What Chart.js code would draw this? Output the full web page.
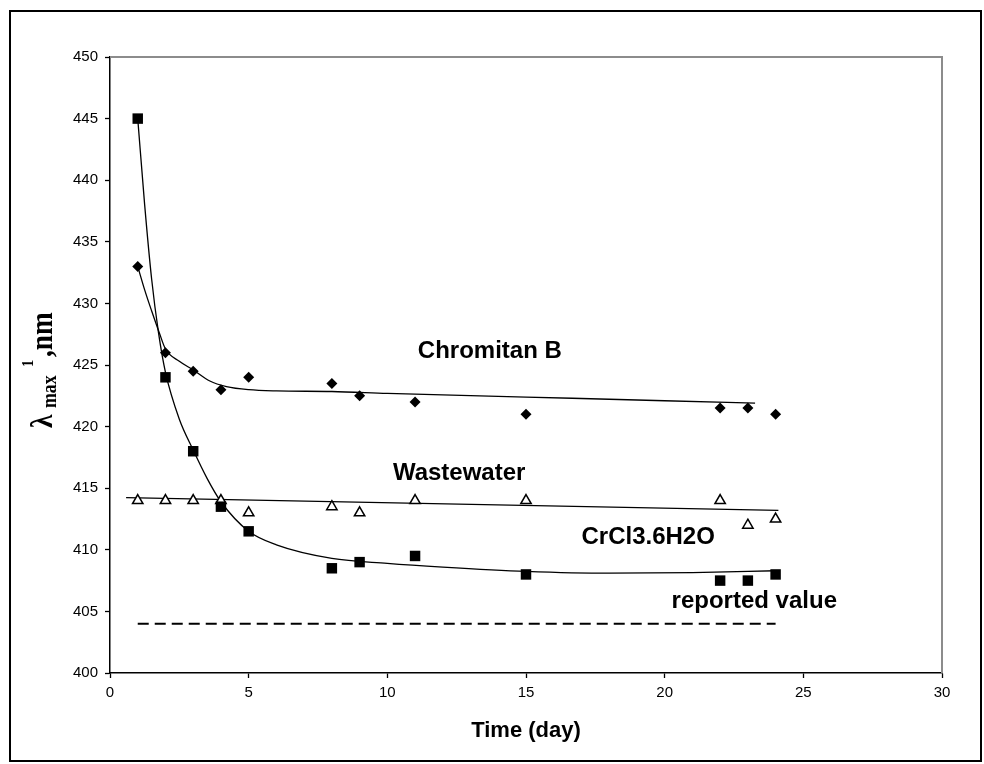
<!DOCTYPE html>
<html>
<head>
<meta charset="utf-8">
<script src="https://cdn.jsdelivr.net/npm/chart.js@4.4.1/dist/chart.umd.min.js"></script>
<style>
  html, body { margin: 0; padding: 0; background: #fff; }
  #wrap { width: 984px; height: 764px; }
</style>
</head>
<body>
<div id="wrap"><canvas id="myChart" width="984" height="764"></canvas></div>
<script>
// measured points
const days = [1, 2, 3, 4, 5, 8, 9, 11, 15, 22, 23, 24];
const chromitanB = [433, 426, 424.5, 423, 424, 423.5, 422.5, 422, 421, 421.5, 421.5, 421];
const wastewater = [414, 414, 414, 414, 413, 413.5, 413, 414, 414, 414, 412, 412.5];
const crcl3 = [445, 424, 418, 413.5, 411.5, 408.5, 409, 409.5, 408, 407.5, 407.5, 408];

// trend lines
const crcl3FitDays = [1, 1.25, 1.5, 1.75, 2, 2.5, 3, 3.5, 4, 5, 6, 8, 10, 12, 15, 18, 21, 24];
const crcl3Fit = [445, 438, 432, 427.6, 424.4, 420.6, 418.1, 415.8, 413.9, 411.5, 410.4, 409.3, 408.9, 408.6, 408.25, 408.1, 408.15, 408.3];
const chromitanFitDays = [1, 1.25, 1.5, 1.78, 2, 2.5, 3, 3.6, 4.2, 5, 6, 8, 10, 15, 20, 23.26];
const chromitanFit = [433, 431.1, 429.4, 427.6, 426.3, 425.3, 424.6, 423.7, 423.25, 423.0, 422.9, 422.85, 422.7, 422.4, 422.1, 421.9];
const wastewaterFitDays = [0.58, 24.1];
const wastewaterFit = [414.24, 413.2];
const reportedDays = [1, 24];
const reportedValue = [404, 404];

const xTicks = [0, 5, 10, 15, 20, 25, 30];
const yTicks = [400, 405, 410, 415, 420, 425, 430, 435, 440, 445, 450];

const labelText = ['Chromitan B', 'Wastewater', 'CrCl3.6H2O', 'reported value'];
const labelDay = [11.1, 10.2, 17.0, 20.25];
const labelVal = [425.6, 415.65, 410.5, 405.3];

const SANS = '"Liberation Sans", Arial, sans-serif';
const SERIF = '"Liberation Serif", "Times New Roman", serif';

function pts(xs, ys) {
  return xs.map((x, i) => ({ x: x, y: ys[i] }));
}

const decorPlugin = {
  id: 'decor',
  beforeDraw(chart) {
    const ctx = chart.ctx;
    ctx.save();
    ctx.fillStyle = '#fff';
    ctx.fillRect(0, 0, chart.width, chart.height);
    ctx.restore();
  },
  afterDraw(chart) {
    const ctx = chart.ctx;
    const a = chart.chartArea;
    const xs = chart.scales.x, ys = chart.scales.y;
    ctx.save();
    // grey plot frame top/right
    ctx.strokeStyle = '#8c8c8c';
    ctx.lineWidth = 2;
    ctx.beginPath();
    ctx.moveTo(a.left, a.top);
    ctx.lineTo(a.right, a.top);
    ctx.lineTo(a.right, a.bottom);
    ctx.stroke();

    // outer frame
    ctx.strokeStyle = '#000';
    ctx.lineWidth = 2;
    ctx.strokeRect(10, 11, 971, 750);

    // series labels
    ctx.fillStyle = '#000';
    ctx.font = 'bold 24px ' + SANS;
    ctx.textBaseline = 'alphabetic';
    ctx.textAlign = 'left';
    labelText.forEach((t, i) => {
      ctx.fillText(t, xs.getPixelForValue(labelDay[i]), ys.getPixelForValue(labelVal[i]));
    });

    // y title: lambda max superscript 1 ,nm
    ctx.translate(52, (a.top + a.bottom) / 2);
    ctx.rotate(-Math.PI / 2);
    const part = (t, size, rx, ry) => {
      ctx.save();
      ctx.translate(rx, ry);
      ctx.scale(0.85, 1);
      ctx.font = 'bold ' + size + 'px ' + SERIF;
      ctx.fillText(t, 0, 0);
      ctx.restore();
    };
    part('\u03bb', 32, -63, 0);
    part('max', 21, -43, 4);
    part('1', 17, -2, -19);
    part(',nm', 32, 8, 0);
    ctx.restore();
  }
};

const config = {
  type: 'scatter',
  data: {
    datasets: [
      {
        label: 'CrCl3.6H2O',
        data: pts(days, crcl3),
        pointStyle: 'rect',
        pointRadius: 7.4,
        backgroundColor: '#000',
        borderColor: '#000',
        borderWidth: 0,
        order: 0
      },
      {
        label: 'Chromitan B',
        data: pts(days, chromitanB),
        pointStyle: 'rectRot',
        pointRadius: 5.5,
        backgroundColor: '#000',
        borderColor: '#000',
        borderWidth: 0,
        order: 0
      },
      {
        label: 'Wastewater',
        data: pts(days, wastewater),
        pointStyle: 'triangle',
        pointRadius: 6,
        backgroundColor: '#fff',
        borderColor: '#000',
        borderWidth: 1.5,
        order: 0
      },
      {
        type: 'line',
        data: pts(crcl3FitDays, crcl3Fit),
        borderColor: '#000',
        borderWidth: 1.3,
        pointRadius: 0,
        cubicInterpolationMode: 'monotone',
        fill: false,
        order: 1
      },
      {
        type: 'line',
        data: pts(chromitanFitDays, chromitanFit),
        borderColor: '#000',
        borderWidth: 1.3,
        pointRadius: 0,
        cubicInterpolationMode: 'monotone',
        fill: false,
        order: 1
      },
      {
        type: 'line',
        data: pts(wastewaterFitDays, wastewaterFit),
        borderColor: '#000',
        borderWidth: 1.3,
        pointRadius: 0,
        fill: false,
        order: 1
      },
      {
        type: 'line',
        data: pts(reportedDays, reportedValue),
        borderColor: '#000',
        borderWidth: 2,
        borderDash: [11, 6],
        pointRadius: 0,
        fill: false,
        order: 1
      }
    ]
  },
  options: {
    responsive: false,
    animation: false,
    layout: { padding: { top: 57, right: 42, left: 0, bottom: 0 } },
    plugins: {
      legend: { display: false },
      tooltip: { enabled: false }
    },
    scales: {
      x: {
        type: 'linear',
        min: 0,
        max: 30,
        afterBuildTicks: (s) => { s.ticks = xTicks.map(v => ({ value: v })); },
        afterFit: (s) => { s.height = 91; },
        ticks: { color: '#000', font: { family: SANS, size: 15 }, padding: 6, autoSkip: false, maxRotation: 0 },
        grid: { drawOnChartArea: false, tickLength: 5, tickColor: '#000', tickWidth: 1.3 },
        border: { color: '#000', width: 1.5 },
        title: {
          display: true,
          text: 'Time (day)',
          color: '#000',
          font: { family: SANS, size: 22, weight: 'bold' },
          padding: { top: 0, bottom: 20 }
        }
      },
      y: {
        type: 'linear',
        min: 400,
        max: 450,
        afterBuildTicks: (s) => { s.ticks = yTicks.map(v => ({ value: v })); },
        afterFit: (s) => { s.width = 110; },
        ticks: { color: '#000', font: { family: SANS, size: 15 }, padding: 7, autoSkip: false },
        grid: { drawOnChartArea: false, tickLength: 5, tickColor: '#000', tickWidth: 1.3 },
        border: { color: '#000', width: 1.5 }
      }
    }
  },
  plugins: [decorPlugin]
};

const myChart = new Chart(document.getElementById('myChart'), config);
</script>
</body>
</html>
